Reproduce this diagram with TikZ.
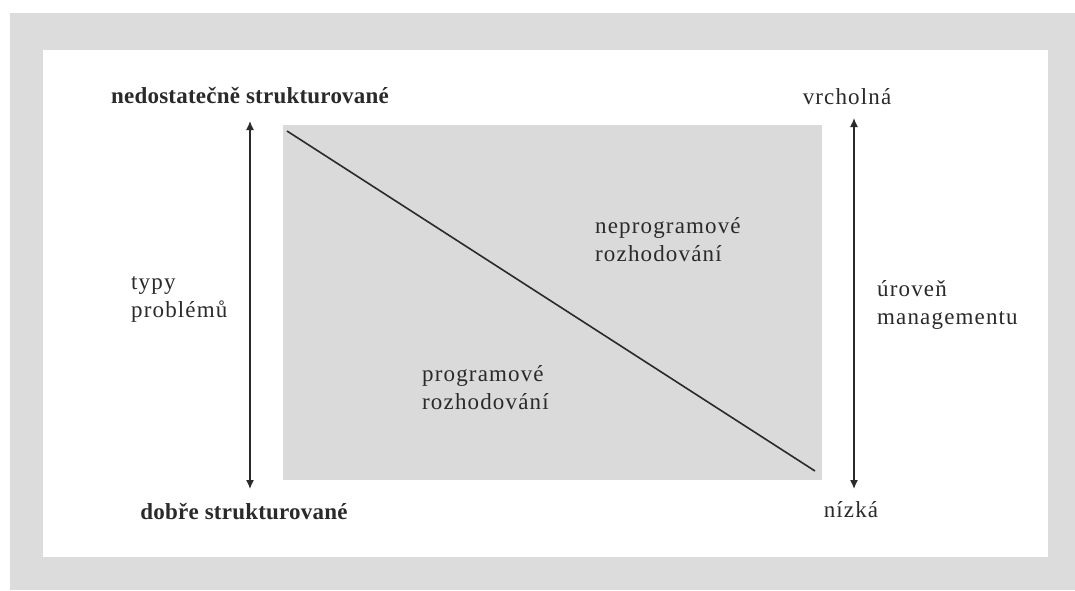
\documentclass[tikz,border=0pt]{standalone}
\usepackage{fontspec}
\setmainfont{Liberation Serif}
\usetikzlibrary{arrows.meta}
\definecolor{framegray}{HTML}{DCDCDC}
\definecolor{fieldgray}{HTML}{DADADA}
\definecolor{ink}{HTML}{2A2A2A}
\tikzset{
  lbl/.style={text=ink, inner sep=0pt, font=\addfontfeature{LetterSpace=5}\fontsize{23}{28}\selectfont},
  lblb/.style={lbl, font=\addfontfeature{LetterSpace=1}\fontsize{23}{28}\selectfont\bfseries},
  axis/.style={draw=ink, line width=1.4pt, {Latex[length=9pt,width=8pt]}-{Latex[length=9pt,width=8pt]}},
}
\begin{document}
\begin{tikzpicture}[x=1pt,y=-1pt]
  \useasboundingbox (0,0) rectangle (1075,590);
  % frame and page
  \fill[white] (0,0) rectangle (1075,590);
  \fill[framegray] (10,13) rectangle (1075,590);
  \fill[white] (43,50) rectangle (1048,557);
  % shaded decision field
  \fill[fieldgray] (283,125) rectangle (822,480);
  \coordinate (dtop) at (287,131);
  \coordinate (dbot) at (815,471);
  \draw[ink, line width=1.6pt] (dtop) -- (dbot);

  % left axis: problem types
  \node[lblb] (pt) at (250,96) {nedostatečně strukturované};
  \node[lblb] (pb) at (244,512) {dobře strukturované};
  \coordinate (la) at (250,121);
  \coordinate (lb) at (250,489);
  \draw[axis] (la) -- (lb);
  \node[lbl, align=left, anchor=west] (types) at (131,299) {typy\\problémů};

  % right axis: management level
  \node[lbl] (mt) at (847,97) {vrcholná};
  \node[lbl] (mb) at (851,510) {nízká};
  \coordinate (ra) at (854,118);
  \coordinate (rb) at (854,489);
  \draw[axis] (ra) -- (rb);
  \node[lbl, align=left, anchor=west] (level) at (877,305) {úroveň\\managementu};

  % field labels
  \node[lbl, align=left, anchor=west] (nonprog) at (595,240) {neprogramové\\rozhodování};
  \node[lbl, align=left, anchor=west] (prog) at (422,388) {programové\\rozhodování};
\end{tikzpicture}
\end{document}
